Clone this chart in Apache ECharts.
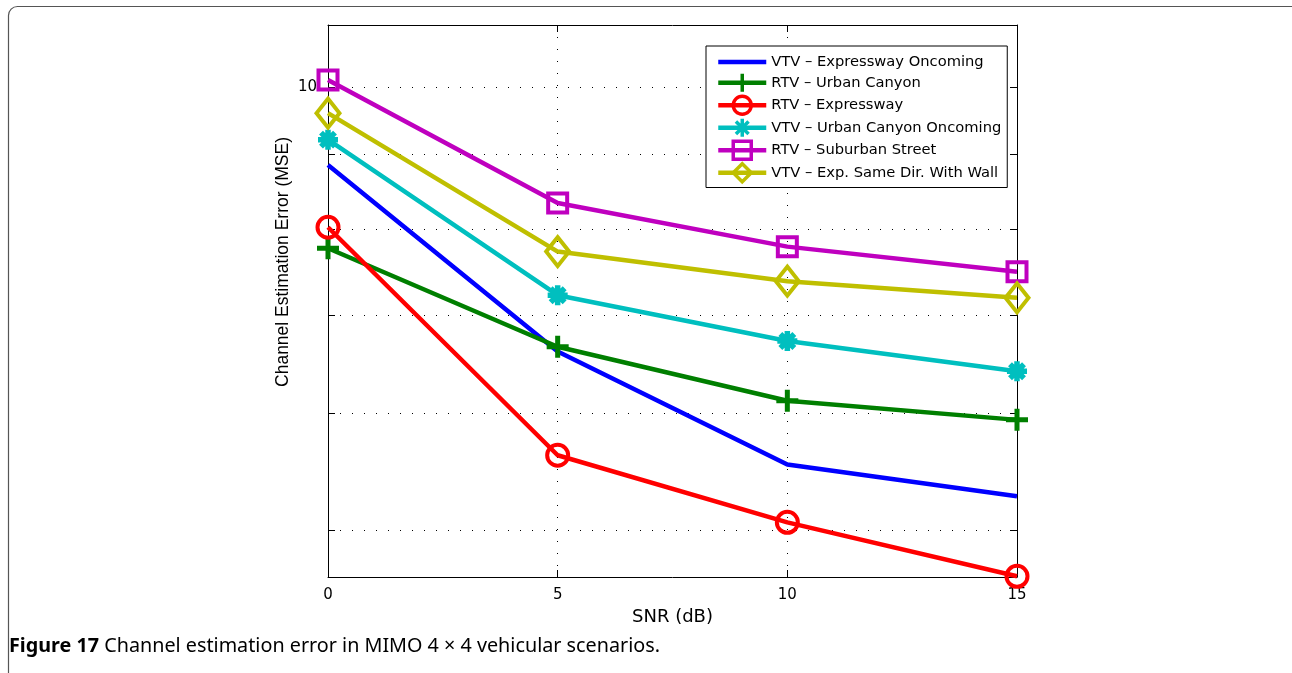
<!DOCTYPE html>
<html>
<head>
<meta charset="utf-8">
<title>Channel estimation error in MIMO 4 x 4 vehicular scenarios</title>
<script src="https://cdn.jsdelivr.net/npm/echarts@6/dist/echarts.min.js"></script>
<style>
  html, body { margin: 0; padding: 0; background: #fff; }
  #chart { width: 1292px; height: 673px; }
</style>
</head>
<body>
<div id="chart"></div>
<script>
// SNR points (dB)
const snr = [0, 5, 10, 15];

// Channel estimation error (MSE) per scenario
const vtvExpresswayOncoming = [8.85, 6.61, 5.54, 5.27];
const rtvUrbanCanyon = [7.77, 6.66, 6.12, 5.94];
const rtvExpressway = [8.03, 5.62, 5.06, 4.65];
const vtvUrbanCanyonOncoming = [9.21, 7.22, 6.72, 6.41];
const rtvSuburbanStreet = [10.11, 8.34, 7.79, 7.49];
const vtvExpSameDirWall = [9.60, 7.73, 7.38, 7.19];

const seriesNames = [
  'VTV \u2013 Expressway Oncoming',
  'RTV \u2013 Urban Canyon',
  'RTV \u2013 Expressway',
  'VTV \u2013 Urban Canyon Oncoming',
  'RTV \u2013 Suburban Street',
  'VTV \u2013 Exp. Same Dir. With Wall'
];

// Y axis: log scale, minor ticks/grid at 5..10, label only at 10
const yTickValues = [5, 6, 7, 8, 9, 10];
const yLabelValues = [10];
const xTickValues = [0, 5, 10, 15];

const FONT = '"DejaVu Sans", Verdana, sans-serif';
const FONT_NARROW = '"Liberation Sans", Arial, Helvetica, sans-serif';
const CAPTION_FONT = '"Noto Sans", "Open Sans", sans-serif';

const plusPath = 'path://M-1,0L1,0M0,-1L0,1';
const starPath = 'path://M0,-1L0,1M-1,0L1,0M-0.7,-0.7L0.7,0.7M-0.7,0.7L0.7,-0.7';

function pairs(values) {
  return snr.map((x, i) => [x, values[i]]);
}

function makeSeries(name, values, color, symbol, size, borderWidth) {
  return {
    name: name,
    type: 'line',
    data: pairs(values),
    xAxisIndex: 0,
    yAxisIndex: 0,
    symbol: symbol,
    symbolSize: size,
    showSymbol: symbol !== 'none',
    lineStyle: { color: color, width: 4.5 },
    itemStyle: { color: 'rgba(0,0,0,0)', borderColor: color, borderWidth: borderWidth },
    emphasis: { disabled: true },
    animation: false,
    z: 3
  };
}

// Legend entries; marker entries get a thick outline like the plotted markers
const legendData = seriesNames.map((name, i) =>
  i === 0 ? { name: name } : { name: name, itemStyle: { borderWidth: 3.5 } }
);

const chart = echarts.init(document.getElementById('chart'), null, { renderer: 'canvas' });

const dotted = { color: '#000', width: 1, type: [1, 11] };
const tickStyle = { color: '#000', width: 1 };

chart.setOption({
  animation: false,
  backgroundColor: '#fff',
  grid: { left: 328, top: 25, right: 275, bottom: 96, containLabel: false },
  legend: {
    orient: 'vertical',
    left: 706,
    top: 46,
    padding: [7, 6, 4, 10],
    itemWidth: 48,
    itemHeight: 22.5,
    itemGap: 1,
    backgroundColor: '#fff',
    borderColor: '#000',
    borderWidth: 1,
    borderRadius: 0,
    lineStyle: { width: 4.5 },
    textStyle: { fontFamily: FONT, fontSize: 14.7, color: '#000' },
    data: legendData,
    selectedMode: false
  },
  xAxis: [
    {
      type: 'value', position: 'bottom', min: 0, max: 15, interval: 5,
      name: 'SNR (dB)', nameLocation: 'middle', nameGap: 25,
      nameTextStyle: { fontFamily: FONT, fontSize: 18, color: '#000' },
      axisLine: { show: true, onZero: false, lineStyle: { color: '#000', width: 1 } },
      axisTick: { show: true, inside: true, length: 7, lineStyle: tickStyle, customValues: xTickValues },
      axisLabel: { show: true, margin: 11, fontFamily: FONT, fontSize: 15, color: '#000', customValues: xTickValues },
      splitLine: { show: true, lineStyle: dotted }
    },
    {
      type: 'value', position: 'top', min: 0, max: 15, interval: 5,
      axisLine: { show: true, onZero: false, lineStyle: { color: '#000', width: 1 } },
      axisTick: { show: true, inside: true, length: 7, lineStyle: tickStyle, customValues: xTickValues },
      axisLabel: { show: false },
      splitLine: { show: false }
    }
  ],
  yAxis: [
    {
      type: 'log', logBase: 10, position: 'left', min: 4.645, max: 11.02,
      axisLine: { show: true, onZero: false, lineStyle: { color: '#000', width: 1 } },
      axisTick: { show: true, inside: true, length: 7, lineStyle: tickStyle, customValues: yTickValues },
      axisLabel: { show: true, margin: 11, fontFamily: FONT, fontSize: 15, color: '#000', customValues: yLabelValues },
      splitLine: { show: true, lineStyle: dotted },
      minorTick: { show: false },
      minorSplitLine: { show: false }
    },
    {
      type: 'log', logBase: 10, position: 'right', min: 4.645, max: 11.02,
      axisLine: { show: true, onZero: false, lineStyle: { color: '#000', width: 1 } },
      axisTick: { show: true, inside: true, length: 7, lineStyle: tickStyle, customValues: yTickValues },
      axisLabel: { show: false },
      splitLine: { show: false }
    }
  ],
  series: [
    makeSeries(seriesNames[0], vtvExpresswayOncoming, '#0000ff', 'none', 0, 0),
    makeSeries(seriesNames[1], rtvUrbanCanyon, '#007f00', plusPath, 22, 5),
    makeSeries(seriesNames[2], rtvExpressway, '#ff0000', 'circle', 21, 4),
    makeSeries(seriesNames[3], vtvUrbanCanyonOncoming, '#00bfbf', starPath, 20, 5.5),
    makeSeries(seriesNames[4], rtvSuburbanStreet, '#bf00bf', 'rect', 19, 4),
    makeSeries(seriesNames[5], vtvExpSameDirWall, '#bfbf00', 'diamond', [23, 29], 4)
  ],
  graphic: [
    {
      type: 'rect',
      shape: { x: 8.5, y: 6.5, width: 1300, height: 700, r: 9 },
      style: { fill: 'none', stroke: '#555', lineWidth: 1.2 },
      silent: true, z: -10
    },
    {
      type: 'text',
      x: 283, y: 262,
      rotation: Math.PI / 2,
      style: {
        text: 'Channel Estimation Error (MSE)',
        fontFamily: FONT_NARROW, fontSize: 17.5, fill: '#000',
        align: 'center', verticalAlign: 'middle'
      },
      silent: true
    },
    {
      type: 'text',
      x: 9, y: 647,
      scaleX: 1.04,
      style: {
        text: '{b|Figure 17} Channel estimation error in MIMO 4 \u00d7 4 vehicular scenarios.',
        fontFamily: CAPTION_FONT, fontSize: 19, fill: '#000',
        verticalAlign: 'middle',
        rich: {
          b: { fontFamily: CAPTION_FONT, fontSize: 19, fontWeight: 'bold', fill: '#000' }
        }
      },
      silent: true
    }
  ]
});
</script>
</body>
</html>
